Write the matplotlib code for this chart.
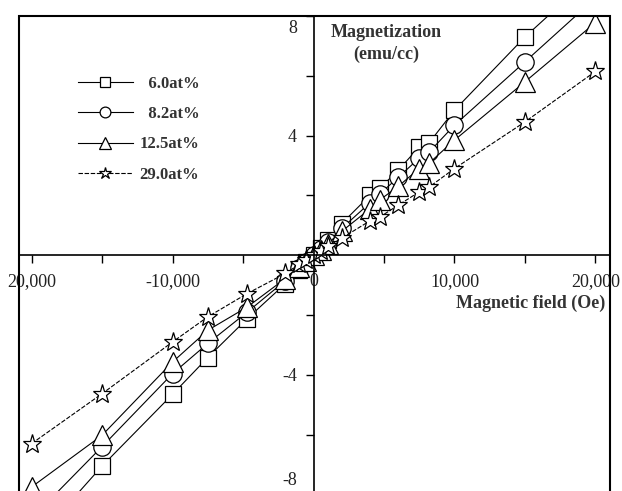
import numpy as np
import matplotlib
matplotlib.use('Agg')
import matplotlib.pyplot as plt
import matplotlib.transforms as mtransforms
from matplotlib.patches import Rectangle

# Dati (campo in Oe, magnetizzazione in emu/cc)
field = [-20000, -15000, -10000, -7500, -4700, -2000, -1000, -500, 0,
         500, 1000, 2000, 4000, 4700, 6000, 7500, 8200, 10000, 15000, 20000]
m_60 = [-9.7, -7.05, -4.65, -3.42, -2.12, -0.95, -0.48, -0.24, 0.0,
        0.24, 0.5, 1.06, 2.0, 2.24, 2.84, 3.62, 3.76, 4.85, 7.3, 9.45]
m_82 = [-8.8, -6.4, -3.96, -2.95, -1.9, -0.85, -0.43, -0.21, 0.0,
        0.21, 0.43, 0.9, 1.75, 2.05, 2.6, 3.25, 3.45, 4.35, 6.47, 8.6]
m_125 = [-7.75, -6.02, -3.57, -2.51, -1.73, -0.78, -0.39, -0.19, 0.0,
         0.19, 0.39, 0.8, 1.55, 1.85, 2.3, 2.9, 3.08, 3.85, 5.8, 7.78]
m_290 = [-6.3, -4.63, -2.9, -2.06, -1.28, -0.61, -0.3, -0.15, 0.0,
         0.15, 0.3, 0.57, 1.15, 1.28, 1.67, 2.12, 2.28, 2.9, 4.46, 6.15]

series_labels = ['\u20076.0at%', '\u20078.2at%', '12.5at%', '29.0at%']
x_ticks = [-20000, -10000, 0, 10000, 20000]
x_ticklabels = ['20,000', '-10,000', '0', '10,000', '20,000']
y_ticks = [-8, -4, 0, 4, 8]
y_ticklabels = ['-8', '-4', '', '4', '8']

plt.rcParams['font.family'] = ['Liberation Serif', 'DejaVu Serif']

fig = plt.figure(figsize=(6.22, 4.91), dpi=100)
ax = fig.add_axes([19 / 622, -5 / 491, 591 / 622, 480 / 491])

# Serie
styles = [
    ('s', 12, '-'),
    ('o', 12.5, '-'),
    ('^', 14, '-'),
    ('*', 14, (0, (4, 1.5))),
]
for m, lab, (mk, ms, ls) in zip([m_60, m_82, m_125, m_290], series_labels, styles):
    ax.plot(field, m, color='black', lw=0.8, ls=ls, marker=mk, ms=ms,
            mfc='white', mec='black', mew=0.9, label=lab)

ax.set_xlim(-20890, 21030)
ax.set_ylim(-8.05, 8.0)

# Assi che passano per lo zero
ax.spines['left'].set_position(('data', 0))
ax.spines['bottom'].set_position(('data', 0))
ax.spines['right'].set_visible(False)
ax.spines['top'].set_visible(False)
for s in ['left', 'bottom']:
    ax.spines[s].set_linewidth(1.2)

# Cornice esterna
ax.add_patch(Rectangle((0, 0), 1, 1, transform=ax.transAxes, fill=False,
                       edgecolor='black', lw=1.5, clip_on=False, zorder=5))

ax.set_xticks(x_ticks)
ax.set_xticklabels(x_ticklabels)
ax.set_xticks([-15000, -5000, 5000, 15000], minor=True)
ax.set_yticks(y_ticks)
ax.set_yticklabels(y_ticklabels)
ax.set_yticks([-6, -2, 2, 6], minor=True)
ax.tick_params(which='both', direction='out', length=6, width=1.0, color='black')
ax.tick_params(axis='x', pad=7, labelsize=13, labelcolor='#222222')
ax.tick_params(axis='y', pad=6, labelsize=13, labelcolor='#222222')

# "8" e "-8" spostati dentro la figura
ylabs = ax.get_yticklabels()
ylabs[-1].set_va('top')
ylabs[0].set_va('bottom')
shift = mtransforms.ScaledTranslation(0, 4 / 72, fig.dpi_scale_trans)
ylabs[0].set_transform(ylabs[0].get_transform() + shift)
shift_down = mtransforms.ScaledTranslation(0, -3 / 72, fig.dpi_scale_trans)
ylabs[-1].set_transform(ylabs[-1].get_transform() + shift_down)

# Etichette degli assi
ax.text(0.621, 0.943, 'Magnetization\n(emu/cc)', transform=ax.transAxes,
        ha='center', va='center', fontsize=13, fontweight='bold',
        color='#333333', linespacing=1.3)
ax.text(0.9915, 0.402, 'Magnetic field (Oe)', transform=ax.transAxes,
        ha='right', va='center', fontsize=13, fontweight='bold', color='#333333')

# Legenda
leg = ax.legend(loc='upper left', bbox_to_anchor=(0.0998, 0.875), frameon=False,
                borderpad=0, borderaxespad=0, handlelength=3.3, handletextpad=0.4,
                labelspacing=0.85, markerscale=0.62,
                prop={'weight': 'bold', 'size': 12})
for t in leg.get_texts():
    t.set_color('#333333')

plt.savefig('out.png', dpi=100)
